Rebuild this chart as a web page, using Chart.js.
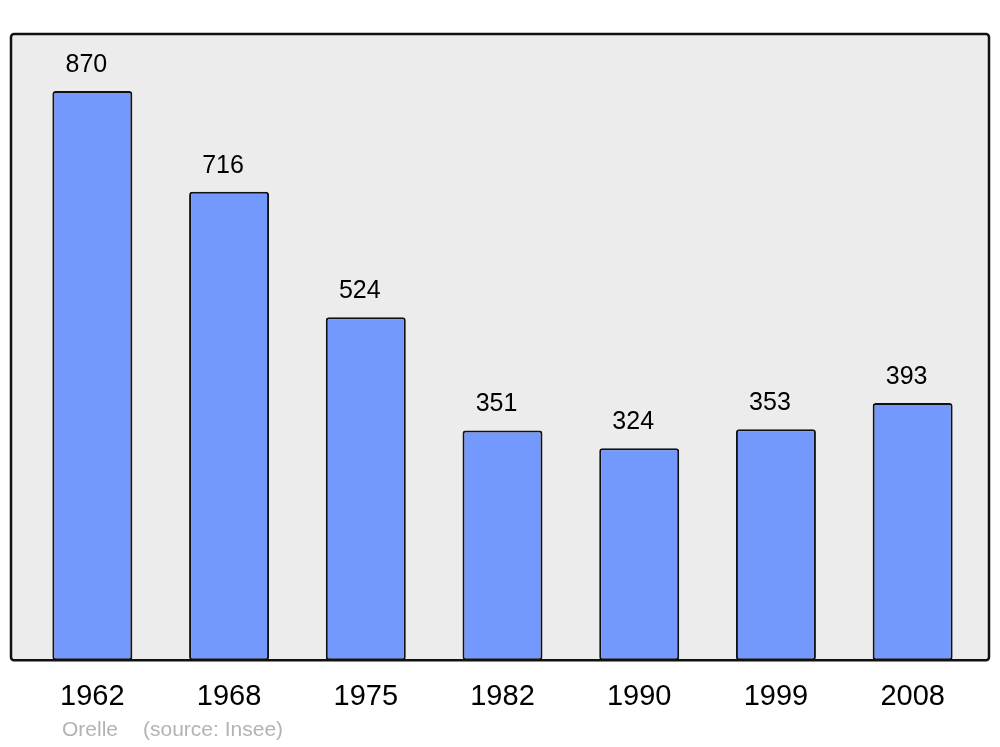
<!DOCTYPE html>
<html>
<head>
<meta charset="utf-8">
<script src="https://cdn.jsdelivr.net/npm/chart.js@4"></script>
<style>
  html, body { margin: 0; padding: 0; background: #fff; }
  #wrap { width: 1000px; height: 747px; }
</style>
</head>
<body>
<div id="wrap"><canvas id="chart"></canvas></div>
<script>
// Population data
const years = ['1962', '1968', '1975', '1982', '1990', '1999', '2008'];
const population = [870, 716, 524, 351, 324, 353, 393];
const caption = ['Orelle', '(source: Insee)'];

// grey frame behind the plot
const framePlugin = {
    id: 'frame',
    beforeDraw(chart) {
        const a = chart.chartArea;
        const ctx = chart.ctx;
        const x0 = a.left - 13, x1 = a.right + 8;
        ctx.save();
        ctx.beginPath();
        ctx.roundRect(x0, a.top, x1 - x0, a.bottom - a.top, 3);
        ctx.fillStyle = '#ececec';
        ctx.fill();
        ctx.restore();
    },
    afterDatasetsDraw(chart) {
        const a = chart.chartArea;
        const ctx = chart.ctx;
        const x0 = a.left - 13, x1 = a.right + 8;
        ctx.save();
        ctx.beginPath();
        ctx.roundRect(x0, a.top, x1 - x0, a.bottom - a.top, 3);
        ctx.lineWidth = 2.5;
        ctx.strokeStyle = '#111';
        ctx.stroke();

        // value labels above the bars
        ctx.fillStyle = '#000';
        ctx.font = '25px "Liberation Sans", Arial, sans-serif';
        ctx.textAlign = 'center';
        ctx.textBaseline = 'middle';
        chart.getDatasetMeta(0).data.forEach((bar, i) => {
            ctx.fillText(population[i], bar.x - 6, bar.y - 26);
        });

        // source line
        ctx.fillStyle = '#b3b3b3';
        ctx.font = '21px "Liberation Sans", Arial, sans-serif';
        ctx.textAlign = 'left';
        ctx.fillText(caption[0], x0 + 51, a.bottom + 70);
        ctx.fillText(caption[1], x0 + 132, a.bottom + 70);
        ctx.restore();
    }
};

new Chart(document.getElementById('chart'), {
    type: 'bar',
    data: {
        labels: years,
        datasets: [{
            data: population,
            backgroundColor: '#7399ff',
            borderColor: '#111',
            borderWidth: 2,
            borderRadius: 3,
            borderSkipped: false,
            barPercentage: 0.585,
            categoryPercentage: 1
        }]
    },
    options: {
        responsive: true,
        maintainAspectRatio: false,
        animation: false,
        layout: { padding: { left: 24, right: 19, top: 34, bottom: 14 } },
        plugins: {
            legend: { display: false },
            tooltip: { enabled: false }
        },
        scales: {
            x: {
                grid: { display: false, drawTicks: false },
                border: { display: false },
                ticks: {
                    padding: 19,
                    color: '#000',
                    font: { family: '"Liberation Sans", Arial, sans-serif', size: 29 }
                }
            },
            y: {
                display: false,
                min: 0,
                max: 957
            }
        }
    },
    plugins: [framePlugin]
});
</script>
</body>
</html>
